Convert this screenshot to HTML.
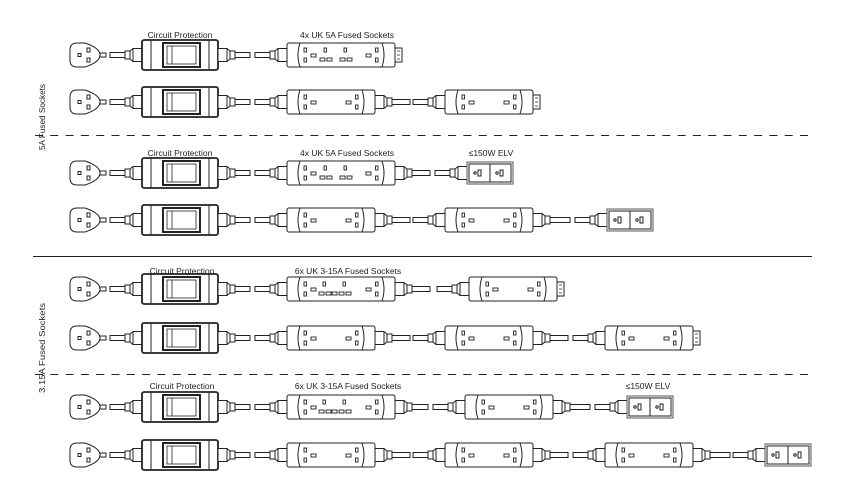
<!DOCTYPE html><html><head><style>body{margin:0;background:#fff}svg{display:block}text{font-family:"Liberation Sans",sans-serif;font-size:8.5px;fill:#222}</style></head><body>
<svg width="842" height="501" viewBox="0 0 842 501" xmlns="http://www.w3.org/2000/svg">
<defs>
<g id="plug" fill="#fff" stroke="#222" stroke-width="1">
<path d="M7,-12 Q0,-12 0,-5 L0,5 Q0,12 7,12 L15,12 Q30,7 30,0 Q30,-7 15,-12 Z"/>
<rect x="8" y="-1.5" width="3" height="3"/><rect x="17" y="-7" width="3" height="4"/><rect x="17" y="3" width="3" height="4"/>
<rect x="30" y="-2" width="6" height="4"/></g>
<g id="lin" fill="#fff" stroke="#222" stroke-width="1">
<rect x="0" y="-2.5" width="15" height="5"/>
<polygon points="15,-4 20,-4 23,-6.5 32,-6.5 32,6.5 23,6.5 20,4 15,4"/>
<line x1="20" y1="-4" x2="20" y2="4"/><line x1="23" y1="-6.5" x2="23" y2="6.5"/></g>
<g id="lout" fill="#fff" stroke="#222" stroke-width="1">
<polygon points="0,-6.5 9,-6.5 12,-4 17,-4 17,4 12,4 9,6.5 0,6.5"/>
<line x1="9" y1="-6.5" x2="9" y2="6.5"/><line x1="12" y1="-4" x2="12" y2="4"/></g>
<g id="prot" fill="#fff" stroke="#222">
<rect x="0" y="-15" width="76" height="30" rx="2" stroke-width="1.8"/>
<line x1="9" y1="-15" x2="9" y2="15"/><line x1="67" y1="-15" x2="67" y2="15"/>
<rect x="21" y="-12" width="37" height="24" stroke-width="2"/>
<rect x="25" y="-9" width="29" height="18" stroke-width="0.8"/>
<line x1="30" y1="-9" x2="30" y2="9" stroke-width="0.8"/></g>
<g id="sk" fill="#fff" stroke="#222" stroke-width="0.9">
<rect x="0" y="-7" width="2.5" height="4"/><rect x="0" y="3" width="2.5" height="4"/><rect x="7" y="-1" width="5" height="3"/></g>
<g id="skr" fill="#fff" stroke="#222" stroke-width="0.9">
<rect x="9.5" y="-7" width="2.5" height="4"/><rect x="9.5" y="3" width="2.5" height="4"/><rect x="0" y="-1" width="5" height="3"/></g>
<g id="pr" fill="#fff" stroke="#222" stroke-width="0.9">
<rect x="0" y="-7" width="2.5" height="4"/><rect x="-4" y="3" width="5" height="3"/><rect x="3" y="3" width="5" height="3"/></g>
<g id="s2" fill="#fff" stroke="#222" stroke-width="1">
<rect x="0" y="-12" width="88" height="24" rx="2"/>
<path d="M13,-12 Q9,0 13,12 M75,-12 Q79,0 75,12"/>
<use href="#sk" x="17"/><use href="#skr" x="59"/></g>
<g id="s4" fill="#fff" stroke="#222" stroke-width="1">
<rect x="0" y="-12" width="108" height="24" rx="2"/>
<path d="M13,-12 Q9,0 13,12 M95,-12 Q99,0 95,12"/>
<use href="#sk" x="17"/><use href="#pr" x="37"/><use href="#pr" x="57"/><use href="#skr" x="79"/></g>
<g id="s6" fill="#fff" stroke="#222" stroke-width="1">
<rect x="0" y="-12" width="108" height="24" rx="2"/>
<path d="M13,-12 Q9,0 13,12 M95,-12 Q99,0 95,12"/>
<use href="#sk" x="17"/><use href="#pr" x="36"/><use href="#pr" x="56"/><use href="#skr" x="79"/>
<rect x="45" y="3" width="5" height="3" fill="#fff" stroke="#222" stroke-width="0.9"/></g>
<g id="cap" fill="#fff" stroke="#222" stroke-width="1">
<rect x="0" y="-7" width="7" height="14"/><path d="M2,-4 h3 M2,0 h3 M2,4 h3" stroke-width="0.8"/></g>
<g id="elv" fill="#fff" stroke="#555" stroke-width="1">
<rect x="0" y="-11" width="46" height="22"/><rect x="2" y="-9" width="42" height="18" stroke="#222"/>
<line x1="23" y1="-9" x2="23" y2="9" stroke="#222"/>
<circle cx="8" cy="0" r="1.2" stroke="#222"/><rect x="11" y="-3" width="3" height="6" stroke="#222"/>
<circle cx="30" cy="0" r="1.2" stroke="#222"/><rect x="33" y="-3" width="3" height="6" stroke="#222"/></g>
</defs>
<g stroke="#222" fill="none">
<line x1="35" y1="135.5" x2="812" y2="135.5" stroke-dasharray="8,7.3"/>
<line x1="35" y1="374.5" x2="812" y2="374.5" stroke-dasharray="8,7.3"/>
<line x1="33" y1="256.5" x2="812" y2="256.5"/>
</g>
<text transform="translate(45,150) rotate(-90)" font-size="9.5" textLength="66" lengthAdjust="spacingAndGlyphs">5A Fused Sockets</text>
<text transform="translate(45,393) rotate(-90)" font-size="9.5" textLength="90" lengthAdjust="spacingAndGlyphs">3.15A Fused Sockets</text>
<text x="180" y="38" text-anchor="middle">Circuit Protection</text>
<text x="347" y="38" text-anchor="middle">4x UK 5A Fused Sockets</text>
<text x="180" y="156" text-anchor="middle">Circuit Protection</text>
<text x="347" y="156" text-anchor="middle">4x UK 5A Fused Sockets</text>
<text x="491" y="156" text-anchor="middle">≤150W ELV</text>
<text x="182" y="274" text-anchor="middle">Circuit Protection</text>
<text x="348" y="274" text-anchor="middle">6x UK 3-15A Fused Sockets</text>
<text x="182" y="389" text-anchor="middle">Circuit Protection</text>
<text x="348" y="389" text-anchor="middle">6x UK 3-15A Fused Sockets</text>
<text x="648" y="389" text-anchor="middle">≤150W ELV</text>
<g id="base1" transform="translate(0,55)">
<use href="#plug" x="70"/><use href="#lin" x="110"/><use href="#prot" x="142"/><use href="#lout" x="218"/>
<rect x="235" y="-2.5" width="15" height="5" fill="#fff" stroke="#222"/><use href="#lin" x="255"/>
</g>
<use href="#base1" y="47"/><use href="#base1" y="118"/><use href="#base1" y="165"/><use href="#base1" y="234"/><use href="#base1" y="283"/><use href="#base1" y="352"/><use href="#base1" y="400"/>
<g fill="#fff" stroke="#222">
<g transform="translate(0,55)"><use href="#s4" x="287"/><use href="#cap" x="395"/></g>
<g transform="translate(0,102)"><use href="#s2" x="287"/><use href="#lout" x="375"/><rect x="392" y="-2.5" width="18" height="5"/><use href="#lin" x="413"/><use href="#s2" x="445"/><use href="#cap" x="533"/></g>
<g transform="translate(0,173)"><use href="#s4" x="287"/><use href="#lout" x="395"/><rect x="412" y="-2.5" width="18" height="5"/><use href="#lin" x="435"/><use href="#elv" x="467"/></g>
<g transform="translate(0,220)"><use href="#s2" x="287"/><use href="#lout" x="375"/><rect x="392" y="-2.5" width="18" height="5"/><use href="#lin" x="413"/><use href="#s2" x="445"/><use href="#lout" x="533"/><rect x="550" y="-2.5" width="20" height="5"/><use href="#lin" x="575"/><use href="#elv" x="607"/></g>
<g transform="translate(0,289)"><use href="#s6" x="287"/><use href="#lout" x="395"/><rect x="412" y="-2.5" width="18" height="5"/><use href="#lin" x="437"/><use href="#s2" x="469"/><use href="#cap" x="557"/></g>
<g transform="translate(0,338)"><use href="#s2" x="287"/><use href="#lout" x="375"/><rect x="392" y="-2.5" width="18" height="5"/><use href="#lin" x="413"/><use href="#s2" x="445"/><use href="#lout" x="533"/><rect x="550" y="-2.5" width="18" height="5"/><use href="#lin" x="573"/><use href="#s2" x="605"/><use href="#cap" x="693"/></g>
<g transform="translate(0,407)"><use href="#s6" x="287"/><use href="#lout" x="395"/><rect x="412" y="-2.5" width="16" height="5"/><use href="#lin" x="433"/><use href="#s2" x="465"/><use href="#lout" x="553"/><rect x="570" y="-2.5" width="20" height="5"/><use href="#lin" x="595"/><use href="#elv" x="627"/></g>
<g transform="translate(0,455)"><use href="#s2" x="287"/><use href="#lout" x="375"/><rect x="392" y="-2.5" width="18" height="5"/><use href="#lin" x="413"/><use href="#s2" x="445"/><use href="#lout" x="533"/><rect x="550" y="-2.5" width="18" height="5"/><use href="#lin" x="573"/><use href="#s2" x="605"/><use href="#lout" x="693"/><rect x="710" y="-2.5" width="20" height="5"/><use href="#lin" x="733"/><use href="#elv" x="765"/></g>
</g>
</svg>
</body></html>
